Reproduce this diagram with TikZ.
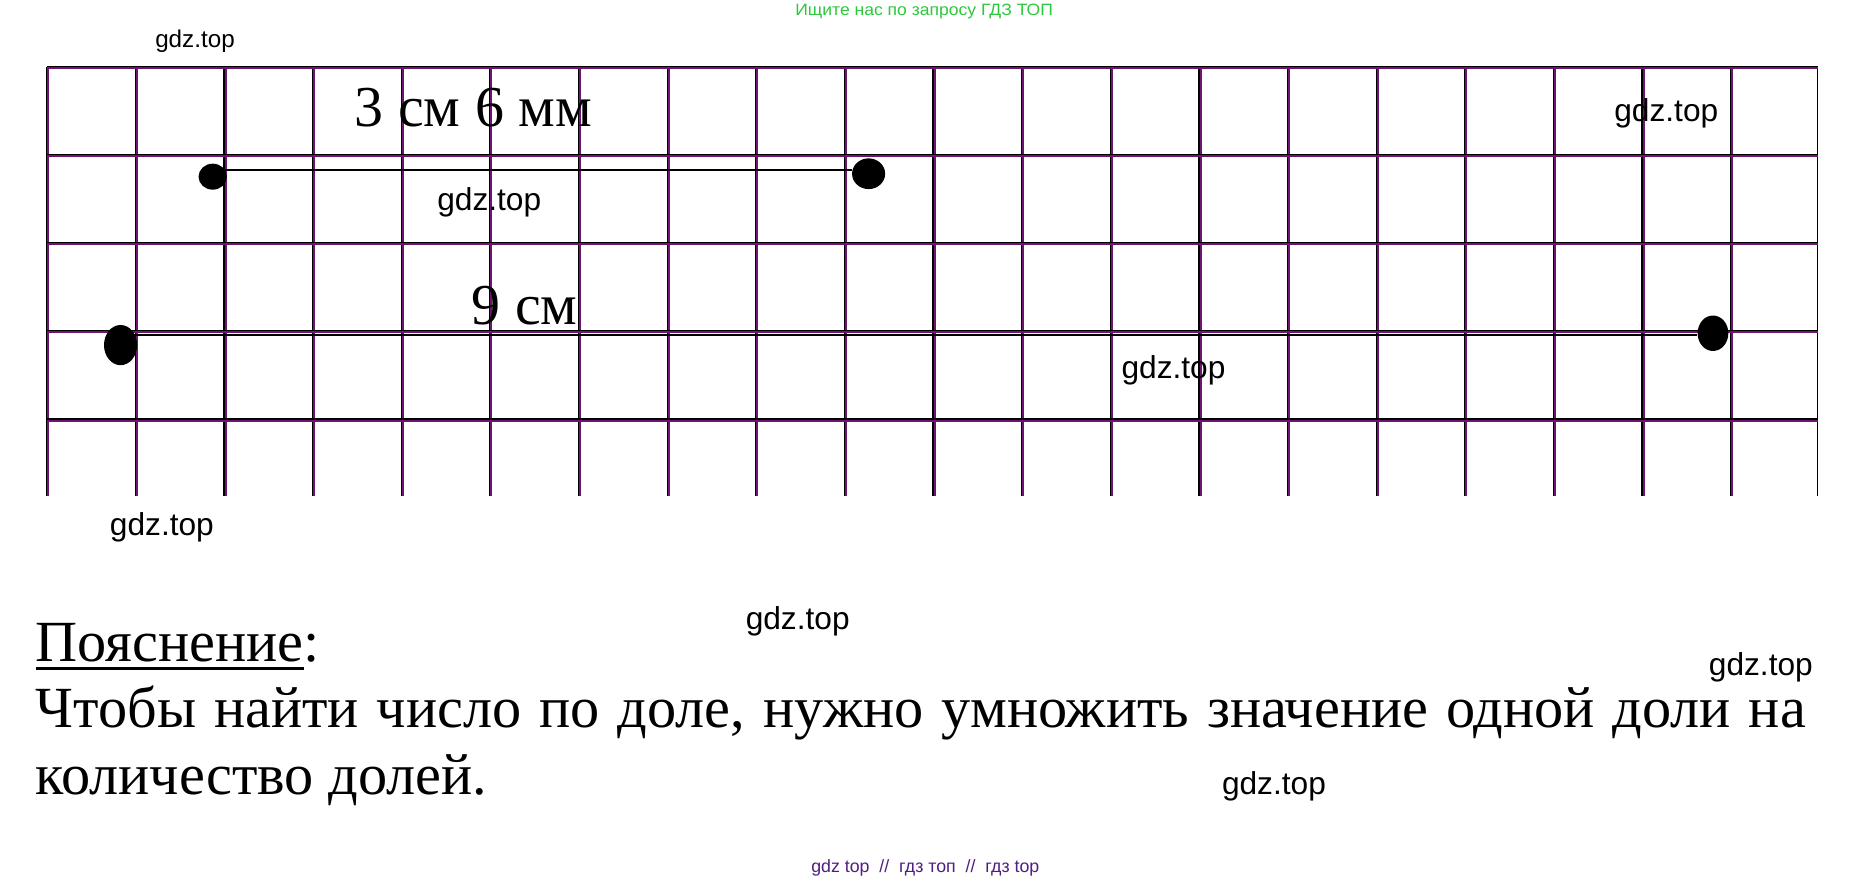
\documentclass[tikz,border=0pt]{standalone}
\usepackage{fontspec}
\setmainfont{Liberation Serif}
\newfontfamily\wmfont{Liberation Sans}
\usetikzlibrary{shapes.geometric}
\definecolor{gridpurple}{RGB}{110,20,115}
\definecolor{wmgreen}{RGB}{45,200,60}
\definecolor{wmpurple}{RGB}{80,30,130}
\newcommand\ulbox[1]{\setbox0\hbox{#1}\rlap{\rule[-7.3pt]{\wd0}{2.6pt}}\box0}
\tikzset{
  gridp/.style={gridpurple, line width=2pt},
  gridk/.style={black, line width=1pt},
  dotnode/.style={ellipse, fill=black, inner sep=0pt, draw=none},
  seg/.style={black, line width=1.4pt},
  wm/.style={inner sep=0pt, font=\wmfont\fontsize{26.8}{30}\selectfont},
  wmsmall/.style={inner sep=0pt, font=\wmfont\fontsize{20.5}{24}\selectfont},
  lab/.style={inner sep=0pt, anchor=base west, font=\fontsize{49}{56}\selectfont},
  expl/.style={inner sep=0pt, anchor=base west, font=\fontsize{49.3}{56}\selectfont},
}
\begin{document}
\begin{tikzpicture}[x=1pt,y=-1pt]
\useasboundingbox[fill=white] (0,0) rectangle (1568,746);
% grid
\foreach \k in {0,...,19}{
  \draw[gridp] ({40+75*\k+0.7},57) -- ({40+75*\k+0.7},420);
  \draw[gridk] ({40+75*\k-0.5},57) -- ({40+75*\k-0.5},420);
}
\draw[black, line width=0.8pt] (1538,57) -- (1538,420);
\foreach \yy in {57,131.5,206,280.5,355}{
  \draw[gridp] (40,\yy+0.7) -- (1538,\yy+0.7);
  \draw[gridk] (40,\yy-0.5) -- (1538,\yy-0.5);
}
% segment 1
\node[dotnode, minimum width=24pt, minimum height=22pt] (a1) at (180,149.5) {};
\node[dotnode, minimum width=28pt, minimum height=26pt] (a2) at (735,147) {};
\draw[seg] ([yshift=5.5pt]a1.center) -- ([yshift=3pt]a2.west);
% segment 2
\node[dotnode, minimum width=28pt, minimum height=34pt] (b1) at (102,292) {};
\node[dotnode, minimum width=26pt, minimum height=30pt] (b2) at (1449.5,282) {};
\draw[seg, line width=1.8pt] ([yshift=8.4pt]b1.center) -- ([yshift=-1.6pt]b2.west);
% labels
\node[lab] (l1) at (300,107) {3 см 6 мм};
\node[lab] (l2) at (399,275) {9 см};
% explanation
\node[expl] (e0) at (30,560) {\ulbox{Пояснение}:};
\node[expl] (e1) at (30,615.7) {\makebox[1498pt][s]{Чтобы найти число по доле, нужно умножить значение одной доли на}};
\node[expl] (e2) at (30,672) {количество долей.};
% watermarks
\node[wmsmall] (w1) at (165,35) {gdz.top};
\node[wm] (w2) at (1410,96) {gdz.top};
\node[wm] (w3) at (414,171) {gdz.top};
\node[wm] (w4) at (993,313) {gdz.top};
\node[wm] (w5) at (137,446) {gdz.top};
\node[wm] (w6) at (675,526) {gdz.top};
\node[wm] (w7) at (1490,565) {gdz.top};
\node[wm] (w8) at (1078,665) {gdz.top};
\node[inner sep=0pt, text=wmgreen, font=\wmfont] (top) at (782,9.5) {\resizebox{218pt}{9.7pt}{Ищите нас по запросу ГДЗ ТОП}};
\node[inner sep=0pt, text=wmpurple, font=\wmfont] (bot) at (783,734) {\resizebox{193pt}{!}{gdz top \ // \ гдз топ \ // \ гдз top}};
\end{tikzpicture}
\end{document}
